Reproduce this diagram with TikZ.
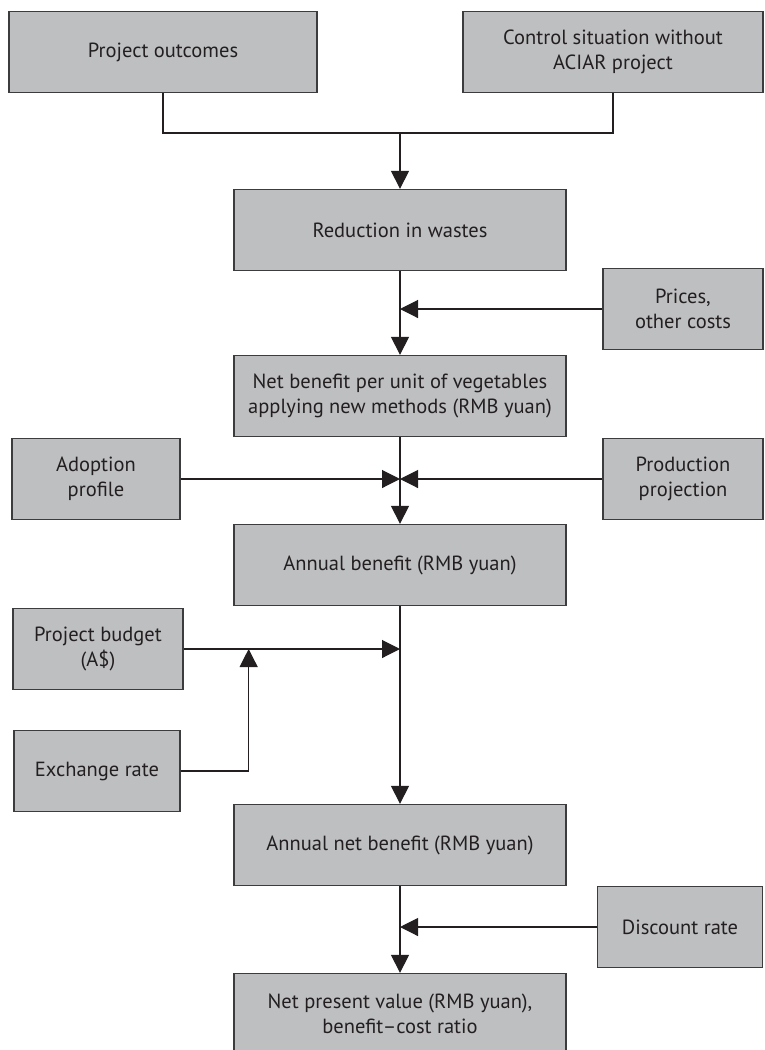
\documentclass[tikz,border=0pt]{standalone}
\usepackage{fontspec}
\setmainfont{PT Sans}
\usetikzlibrary{arrows.meta}
\definecolor{boxfill}{RGB}{190,191,193}
\definecolor{boxline}{RGB}{60,60,62}
\definecolor{inkclr}{RGB}{35,31,32}
\begin{document}
\begin{tikzpicture}[x=1pt,y=-1pt]
	\tikzstyle{box}  = [rectangle, draw=boxline, fill=boxfill, line width=1.3pt, minimum height=81pt, inner sep=0pt, align=center, text=inkclr, font=\fontsize{20.5}{25}\selectfont]
	\tikzstyle{flow} = [-{Triangle[length=18pt,width=18pt]}, line width=1.1pt, draw=inkclr]

	\useasboundingbox (0,0) rectangle (765,1050);

	% main column
	\foreach \name/\y/\txt in {red/230/{Reduction in wastes}, netb/396/{Net benefit per unit of vegetables\\applying new methods (RMB yuan)}, annb/565/{Annual benefit (RMB yuan)}, annnet/845/{Annual net benefit (RMB yuan)}, npv/1014/{Net present value (RMB yuan),\\benefit--cost ratio}}
		\node[box, minimum width=332pt] (\name) at (400,\y) {\txt};

	% inputs at the sides
	\foreach \name/\x/\y/\w/\txt in {po/163/52/308/{Project outcomes}, ctrl/613/52/300/{Control situation without\\ACIAR project}, prices/683/309/160/{Prices,\\other costs}, adopt/96/479/168/{Adoption\\profile}, prod/683/479/160/{Production\\projection}, budget/98/649/170/{Project budget\\(A\$)}, exch/97/771/166/{Exchange rate}, disc/680/927/165/{Discount rate}}
		\node[box, minimum width=\w pt] (\name) at (\x,\y) {\txt};

	\coordinate (join) at (400,133);
	\draw[line width=1.1pt, draw=inkclr] (po.south) |- (join) -| (ctrl.south);
	\draw[flow] (join) -- (red.north);

	\foreach \from/\to in {red/netb, netb/annb, annb/annnet, annnet/npv}
		\draw[flow] (\from.south) -- (\to.north);

	\foreach \side/\col in {prices/red, adopt/netb, prod/netb, budget/annb, disc/annnet}
		\draw[flow] (\side) -- (\side -| \col.south);

	\draw[flow] (exch.east) -| ([xshift=65pt]budget.east);
\end{tikzpicture}
\end{document}
